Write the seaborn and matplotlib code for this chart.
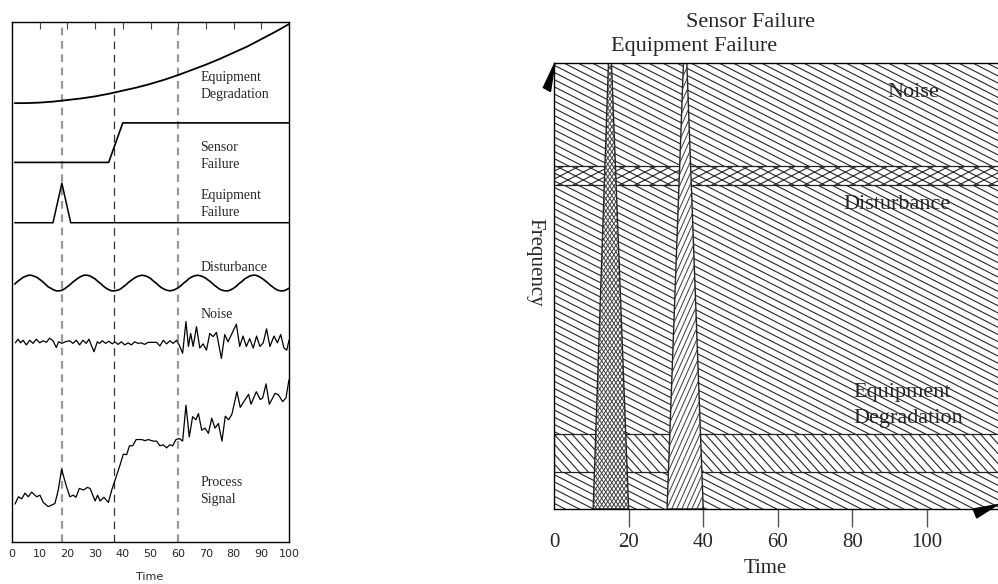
import numpy as np
import pandas as pd
import seaborn as sns
import matplotlib
matplotlib.use("Agg")
import matplotlib.pyplot as plt
from matplotlib.patches import Rectangle, Polygon
from matplotlib.collections import LineCollection

# ---------------- data: left panel (time signals, stacked) ----------------
deg_x = [1, 5, 10, 15, 20, 25, 30, 35, 40, 45, 50, 55, 60, 65, 70, 75, 80, 85, 90, 95, 100]
deg_y = [84.4, 84.4, 84.5, 84.7, 85.0, 85.3, 85.7, 86.2, 86.8, 87.4, 88.1, 88.9,
         89.8, 90.8, 91.8, 92.9, 94.1, 95.3, 96.7, 98.1, 99.6]

sens_x = [1, 34.9, 40.0, 100]
sens_y = [73.0, 73.0, 80.6, 80.6]

efail_x = [1, 14.8, 18.0, 21.2, 100]
efail_y = [61.4, 61.4, 69.0, 61.4, 61.4]

dist_x = list(range(1, 101))
dist_y = [49.6, 50.1, 50.5, 50.9, 51.1, 51.3, 51.3, 51.1, 50.9, 50.5,
          50.1, 49.6, 49.1, 48.8, 48.5, 48.3, 48.3, 48.4, 48.7, 49.1,
          49.5, 50.0, 50.4, 50.8, 51.1, 51.3, 51.3, 51.2, 50.9, 50.6,
          50.1, 49.7, 49.2, 48.8, 48.5, 48.3, 48.3, 48.4, 48.6, 49.0,
          49.4, 49.9, 50.3, 50.7, 51.0, 51.2, 51.3, 51.2, 51.0, 50.7,
          50.2, 49.8, 49.3, 48.9, 48.6, 48.4, 48.3, 48.4, 48.6, 48.9,
          49.3, 49.8, 50.2, 50.7, 51.0, 51.2, 51.3, 51.2, 51.0, 50.7,
          50.3, 49.9, 49.4, 49.0, 48.6, 48.4, 48.3, 48.3, 48.5, 48.8,
          49.2, 49.7, 50.1, 50.6, 50.9, 51.2, 51.3, 51.3, 51.1, 50.8,
          50.4, 50.0, 49.5, 49.1, 48.7, 48.4, 48.3, 48.3, 48.5, 48.8]

noise_x = [1.2, 2.2, 3.1, 4.0, 5.2, 6.4, 7.6, 8.8, 10.0, 11.2,
           12.4, 13.6, 14.8, 16.0, 16.8, 18.0, 19.2, 20.8, 22.0, 23.2,
           24.4, 25.6, 26.8, 27.8, 28.6, 29.6, 30.8, 31.6, 32.6, 33.8,
           35.0, 36.2, 37.1, 38.3, 39.5, 40.7, 41.9, 43.1, 44.3, 45.5,
           46.7, 47.9, 49.2, 50.6, 52.2, 53.4, 54.6, 55.8, 57.0, 58.2,
           59.4, 60.6, 61.6, 62.8, 63.7, 64.5, 65.4, 66.6, 67.8, 69.0,
           70.2, 71.4, 72.6, 73.8, 75.6, 76.8, 78.0, 79.4, 81.0, 82.2,
           83.4, 84.6, 85.8, 87.1, 88.3, 89.5, 90.7, 91.9, 93.1, 94.6,
           95.8, 97.0, 98.2, 99.2, 100]
noise_y = [38.3, 39.0, 38.3, 38.8, 37.9, 38.8, 38.2, 39.0, 38.3, 38.7,
           38.4, 39.2, 38.7, 37.4, 38.5, 38.2, 38.5, 38.7, 38.2, 38.8,
           37.9, 38.8, 38.2, 39.0, 37.9, 36.6, 38.5, 38.2, 38.7, 38.2,
           38.6, 38.1, 38.5, 38.0, 38.5, 37.9, 38.3, 37.9, 38.5, 38.2,
           38.3, 38.0, 38.4, 38.4, 38.4, 37.7, 38.8, 38.1, 38.7, 38.2,
           38.8, 37.6, 36.3, 42.4, 37.6, 40.1, 37.6, 41.4, 37.3, 38.1,
           36.9, 40.1, 39.5, 40.3, 35.3, 39.9, 38.5, 40.1, 41.9, 37.6,
           39.6, 37.6, 39.1, 37.3, 39.6, 37.6, 38.3, 41.0, 37.6, 39.6,
           38.3, 39.9, 37.3, 36.9, 38.8]

proc_x = [1.1, 2.3, 3.5, 4.7, 5.9, 7.1, 8.9, 10.1, 11.3, 13.1,
          14.3, 15.5, 16.7, 17.9, 19.7, 20.9, 22.1, 23.1, 24.3, 25.8,
          27.2, 28.2, 30.0, 30.9, 31.8, 33.2, 34.8, 36.0, 37.2, 39.0,
          40.2, 41.4, 42.4, 43.6, 44.8, 46.8, 48.0, 49.2, 51.0, 52.2,
          53.4, 54.6, 55.8, 57.0, 58.0, 59.2, 60.4, 61.6, 62.8, 64.0,
          65.2, 66.4, 67.3, 68.5, 69.7, 70.9, 72.1, 73.3, 74.5, 75.8,
          77.0, 78.2, 79.4, 81.2, 82.4, 84.2, 85.4, 86.3, 88.2, 89.6,
          90.5, 91.7, 92.9, 95.0, 96.2, 97.7, 98.9, 100]
proc_y = [7.3, 8.7, 8.3, 9.4, 8.7, 9.6, 8.7, 9.0, 7.6, 6.8,
          7.1, 7.4, 10.0, 14.0, 10.6, 8.7, 9.0, 8.6, 10.3, 10.0,
          10.5, 10.3, 7.9, 9.0, 7.9, 8.6, 7.6, 10.0, 11.9, 14.8,
          16.9, 16.8, 18.5, 18.5, 19.7, 19.7, 19.5, 19.7, 19.4, 19.4,
          18.5, 18.7, 18.1, 18.7, 18.5, 19.7, 19.9, 19.4, 26.3, 20.2,
          24.1, 23.5, 24.7, 21.5, 21.9, 20.9, 23.8, 21.9, 22.8, 19.4,
          24.2, 23.5, 24.6, 28.9, 25.9, 27.4, 28.4, 26.5, 28.9, 27.4,
          27.7, 30.4, 26.5, 28.6, 28.3, 27.0, 27.7, 31.2]

event_times = [18, 37, 60]

left_labels = ["Equipment\nDegradation", "Sensor\nFailure", "Equipment\nFailure",
               "Disturbance", "Noise", "Process\nSignal"]
left_label_y = [87.7, 74.2, 65.0, 52.7, 43.7, 9.8]
left_ticks = [0, 10, 20, 30, 40, 50, 60, 70, 80, 90, 100]

# ---------------- data: right panel (time-frequency sketch) ----------------
band_names = ["Disturbance", "Equipment\nDegradation"]
band_lo = [72.6, 8.3]
band_hi = [76.9, 16.8]

fault_names = ["Equipment Failure", "Sensor Failure"]
fault_start = [10.5, 30.3]
fault_end = [20.0, 40.0]
fault_peak = [15.0, 35.15]
fault_top_w = [0.8, 0.9]

right_labels = ["Noise", "Disturbance", "Equipment\nDegradation"]
right_label_x = [89.4, 77.5, 80.2]
right_label_y = [93.3, 68.2, 23.1]
right_ticks = [0, 20, 40, 60, 80, 100]

# ---------------- figure ----------------
sns.set_theme(style="white")
plt.rcParams['font.family'] = ['Liberation Serif', 'DejaVu Serif']
plt.rcParams['axes.linewidth'] = 1.0

fig = plt.figure(figsize=(9.98, 5.84), dpi=100)
ax1 = fig.add_axes([12 / 998, 42 / 584, 277 / 998, 520 / 584])
ax2 = fig.add_axes([554 / 998, 75 / 584, 444 / 998, 446 / 584])

# ---- left panel
for xs, ys, lw in [(deg_x, deg_y, 1.3), (sens_x, sens_y, 1.2), (efail_x, efail_y, 1.1),
                   (dist_x, dist_y, 1.2), (noise_x, noise_y, 0.9), (proc_x, proc_y, 0.9)]:
    sns.lineplot(x=xs, y=ys, ax=ax1, color='black', lw=lw, estimator=None, sort=False)

for t, c, w in zip(event_times, ['#9a9a9a', '#333333', '#9a9a9a'], [1.6, 0.9, 1.6]):
    ax1.axvline(t, color=c, lw=w, ls=(0, (4.6 * 1.2 / w, 3.4 * 1.2 / w)), zorder=0)

for lab, yy in zip(left_labels, left_label_y):
    ax1.text(67.9, yy, lab, fontsize=10, va='center', ha='left', linespacing=1.45)

ax1.set_xlim(0, 100)
ax1.set_ylim(0, 100)
ax1.set_yticks([])
ax1.set_xticks(left_ticks)
ax1.tick_params(axis='x', direction='in', top=True, length=5, width=0.8,
                pad=5, labelsize=8, color='#444444')
for lab in ax1.get_xticklabels():
    lab.set_family(['Liberation Sans Narrow', 'DejaVu Sans'])
ax1.set_xlabel("Time", fontsize=8, family=['Liberation Sans Narrow', 'DejaVu Sans'])
ax1.xaxis.set_label_coords(0.498, -0.058)
for s in ax1.spines.values():
    s.set_color('black')
    s.set_linewidth(1.0)

# ---- right panel
ax2.set_xlim(0, 119.0)
ax2.set_ylim(0, 100)
W = fig.get_figwidth() * fig.dpi * ax2.get_position().width
H = fig.get_figheight() * fig.dpi * ax2.get_position().height


def hatch(ax, patch, angle, gap, color='#262626', lw=0.8, z=1.2):
    # straight hatch lines in screen space, clipped to a patch
    th = np.radians(angle)
    d = np.array([np.cos(th), np.sin(th)])
    n = np.array([-np.sin(th), np.cos(th)])
    L = np.hypot(W, H)
    ctr = np.array([W / 2, H / 2])
    segs = []
    for k in range(-int(L / gap) - 1, int(L / gap) + 2):
        c = ctr + k * gap * n
        segs.append([(c - L * d) / [W, H], (c + L * d) / [W, H]])
    lc = LineCollection(segs, transform=ax.transAxes, colors=color, linewidths=lw, zorder=z)
    ax.add_collection(lc, autolim=False)
    lc.set_clip_path(patch)


# background (between bands)
edges = sorted(zip(band_lo, band_hi))
gaps = []
prev = 0
for lo, hi in edges:
    gaps.append((prev, lo))
    prev = hi
gaps.append((prev, 100))
for lo, hi in gaps:
    p = Rectangle((0, lo), 130, hi - lo, facecolor='white', edgecolor='none', zorder=1)
    ax2.add_patch(p)
    hatch(ax2, p, -27, 6.4, z=1.2)

# bands
band_style = {"Disturbance": [(27, 7.0), (-27, 7.0)], "Equipment\nDegradation": [(-48, 6.6)]}
for name, lo, hi in zip(band_names, band_lo, band_hi):
    p = Rectangle((0, lo), 130, hi - lo, facecolor='white', edgecolor='#222222',
                  lw=0.9, zorder=1.5)
    ax2.add_patch(p)
    for ang, g in band_style[name]:
        hatch(ax2, p, ang, g, z=1.6)

# fault spikes (triangles)
fault_style = {"Equipment Failure": [(57, 3.4), (-57, 3.4)], "Sensor Failure": [(66, 4.6)]}
for name, s, e, pk, tw in zip(fault_names, fault_start, fault_end, fault_peak, fault_top_w):
    p = Polygon([(s, 0), (pk - tw / 2, 100), (pk + tw / 2, 100), (e, 0)], closed=True,
                facecolor='white', edgecolor='#222222', lw=1.0, zorder=2)
    ax2.add_patch(p)
    for ang, g in fault_style[name]:
        hatch(ax2, p, ang, g, color='#3a3a3a', lw=0.7, z=2.1)

# labels
for lab, xx, yy in zip(right_labels, right_label_x, right_label_y):
    ax2.text(xx, yy, lab, fontsize=16, ha='left', va='center', zorder=1.1, linespacing=1.5)

top_y = [1.027, 1.081]
for name, pk, ty in zip(fault_names, fault_peak, top_y):
    ax2.text(pk + 0.3, ty, name, fontsize=16, ha='left', va='baseline',
             transform=ax2.get_xaxis_transform())

ax2.set_yticks([])
ax2.set_xticks(right_ticks)
ax2.set_xticklabels([str(t) for t in right_ticks])
ax2.tick_params(axis='x', direction='out', bottom=True, length=13, width=1.0,
                color='#555555', pad=4, labelsize=15)
ax2.xaxis.get_major_ticks()[0].tick1line.set_visible(False)
ax2.set_xlabel("Time", fontsize=15)
ax2.xaxis.set_label_coords(0.475, -0.113)
ax2.set_ylabel("Frequency", fontsize=15, rotation=270, va='center')
ax2.yaxis.set_label_coords(-0.043, 0.552)
ax2.spines['right'].set_visible(False)
for k in ['left', 'top', 'bottom']:
    ax2.spines[k].set_color('black')
    ax2.spines[k].set_linewidth(1.0)
    ax2.spines[k].set_zorder(3)

# arrow heads on the axes
ax2.add_patch(Polygon([(0.002, 1.0), (-0.024, 0.945), (-0.008, 0.936)], closed=True,
                      transform=ax2.transAxes, clip_on=False, facecolor='black',
                      edgecolor='black', zorder=5))
ax2.add_patch(Polygon([(1.0, 0.010), (0.944, 0.0), (0.952, -0.020)], closed=True,
                      transform=ax2.transAxes, clip_on=False, facecolor='black',
                      edgecolor='black', zorder=5))

fig.savefig("out.png", dpi=100)
